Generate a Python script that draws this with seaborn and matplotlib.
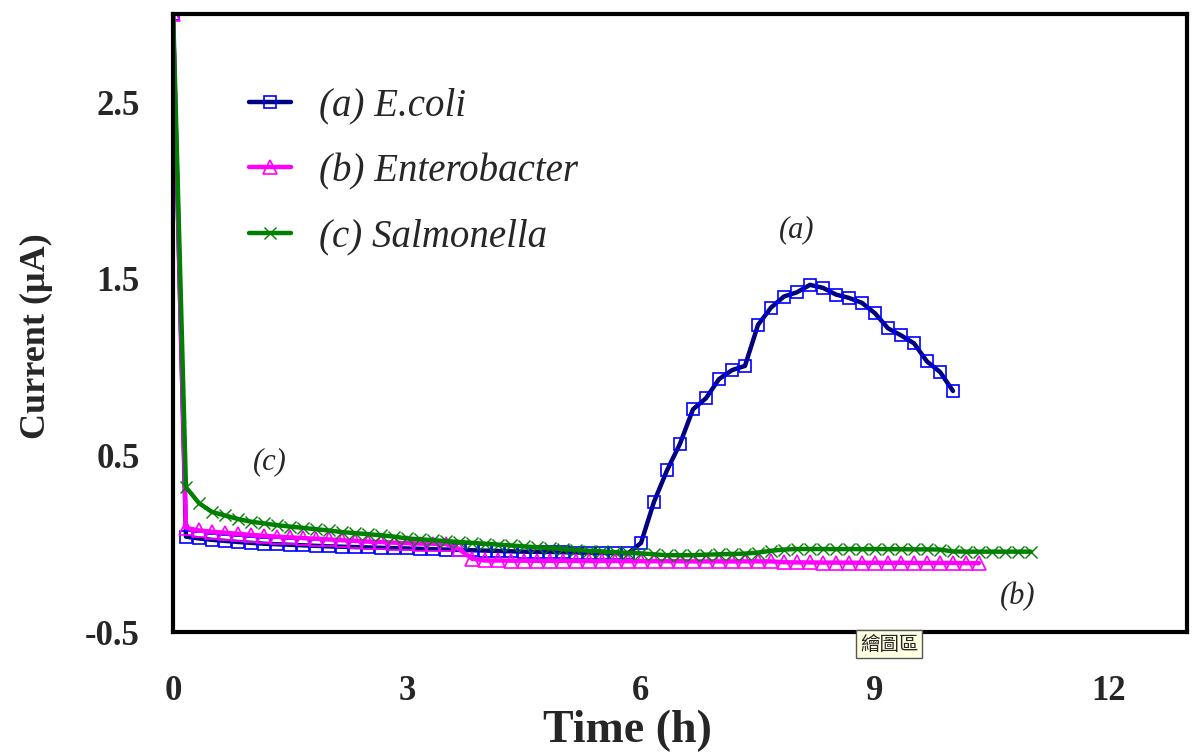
import numpy as np
import pandas as pd
import matplotlib
matplotlib.use("Agg")
import matplotlib.pyplot as plt
import seaborn as sns

# sampling every 10 min
t_ecoli = np.arange(61) / 6.0
t_entero = np.arange(63) / 6.0
t_salmo = np.arange(67) / 6.0

ecoli = [3.0, 0.04, 0.03, 0.022, 0.016, 0.01, 0.005, 0.0, -0.003, -0.006,
         -0.009, -0.012, -0.015, -0.017, -0.019, -0.021, -0.023, -0.025, -0.027, -0.029,
         -0.031, -0.033, -0.035, -0.037, -0.039, -0.041, -0.043, -0.045, -0.046, -0.047,
         -0.048, -0.05, -0.051, -0.052, -0.053, -0.055,
         0.004, 0.237, 0.415, 0.566, 0.761, 0.824, 0.932, 0.983, 1.007, 1.239,
         1.337, 1.40, 1.424, 1.466, 1.449, 1.411, 1.392, 1.364, 1.305, 1.22,
         1.18, 1.135, 1.032, 0.973, 0.865]

entero = [3.0, 0.09, 0.075, 0.068, 0.062, 0.056, 0.05, 0.045, 0.04, 0.036,
          0.032, 0.028, 0.024, 0.02, 0.016, 0.012, 0.009, 0.006, 0.003, 0.001,
          0.0, -0.002, -0.03, -0.085, -0.095, -0.095, -0.096, -0.096, -0.097, -0.097,
          -0.097, -0.098, -0.098, -0.098, -0.098, -0.099, -0.099, -0.099, -0.099, -0.099,
          -0.1, -0.1, -0.1, -0.1, -0.1, -0.1, -0.1, -0.105, -0.106, -0.106,
          -0.107, -0.107, -0.107, -0.108, -0.108, -0.108, -0.108, -0.109, -0.109, -0.109,
          -0.109, -0.11, -0.11]

salmo = [3.05, 0.32, 0.23, 0.18, 0.16, 0.14, 0.125, 0.115, 0.105, 0.097,
         0.09, 0.082, 0.075, 0.066, 0.06, 0.054, 0.048, 0.04, 0.03, 0.025,
         0.02, 0.015, 0.01, 0.005, 0.0, -0.005, -0.01, -0.015, -0.02, -0.025,
         -0.03, -0.035, -0.04, -0.044, -0.048, -0.052, -0.055, -0.06, -0.065, -0.065,
         -0.065, -0.062, -0.06, -0.058, -0.056, -0.05, -0.04, -0.033, -0.03, -0.03,
         -0.03, -0.031, -0.03, -0.031, -0.03, -0.031, -0.031, -0.032, -0.032, -0.033,
         -0.044, -0.045, -0.045, -0.045, -0.045, -0.045, -0.045]

labels = ['(a) E.coli', '(b) Enterobacter', '(c) Salmonella']

sns.set_style("white")
plt.rcParams['font.family'] = ['Liberation Serif', 'DejaVu Serif']

fig = plt.figure(figsize=(11.92, 7.55), dpi=100)
ax = fig.add_axes([0.1451, 0.1629, 0.8507, 0.8186])

sns.lineplot(x=t_ecoli, y=ecoli, ax=ax, color='#000080', lw=3.2, marker='s', ms=8.5,
             markerfacecolor='none', markeredgecolor='#0000FF', markeredgewidth=1.2,
             label=labels[0])
sns.lineplot(x=t_entero, y=entero, ax=ax, color='#FF00FF', lw=3.2, marker='^', ms=9.5,
             markerfacecolor='none', markeredgecolor='#FF00FF', markeredgewidth=1.2,
             label=labels[1])
sns.lineplot(x=t_salmo, y=salmo, ax=ax, color='#008000', lw=3.2, marker='x', ms=9,
             markeredgecolor='#008000', markeredgewidth=1.0,
             label=labels[2])

ax.set_xlim(0, 13)
ax.set_ylim(-0.5, 3.0)
ax.set_xticks([0, 3, 6, 9, 12])
ax.set_yticks([-0.5, 0.5, 1.5, 2.5])
ax.set_yticklabels(['-0.5', '0.5', '1.5', '2.5'])
ax.tick_params(axis='x', direction='in', length=9, width=3, pad=31, labelsize=25)
ax.tick_params(axis='y', direction='in', length=5, width=1.5, pad=24, labelsize=25)
for lab in ax.get_xticklabels() + ax.get_yticklabels():
    lab.set_fontweight('bold')
for s in ax.spines.values():
    s.set_linewidth(3)
    s.set_color('black')
ax.grid(False)

ax.set_xlabel('Time (h)', fontsize=33, fontweight='bold')
ax.set_ylabel('Current (\u03bcA)', fontsize=26, fontweight='bold')
ax.xaxis.set_label_coords(0.448, -0.125)
ax.yaxis.set_label_coords(-0.118, 0.479)

leg = ax.legend(loc='upper left', bbox_to_anchor=(0.056, 0.913), frameon=False,
                prop={'family': 'Liberation Serif', 'style': 'italic', 'size': 28},
                handlelength=1.08, handletextpad=0.72, labelspacing=0.74, borderpad=0)

ax.text(8.0, 1.78, '(a)', fontsize=22, style='italic', ha='center', va='center')
ax.text(10.83, -0.30, '(b)', fontsize=22, style='italic', ha='center', va='center')
ax.text(1.24, 0.465, '(c)', fontsize=22, style='italic', ha='center', va='center')

fig.text(0.7215, 0.147, '繪圖區', fontsize=14, family=['Noto Sans CJK TC', 'DejaVu Sans'],
         va='center', ha='left',
         bbox=dict(boxstyle='square,pad=0.2', fc='#FFFFE1', ec='#555555', lw=1))

plt.savefig('out.png', dpi=100)
